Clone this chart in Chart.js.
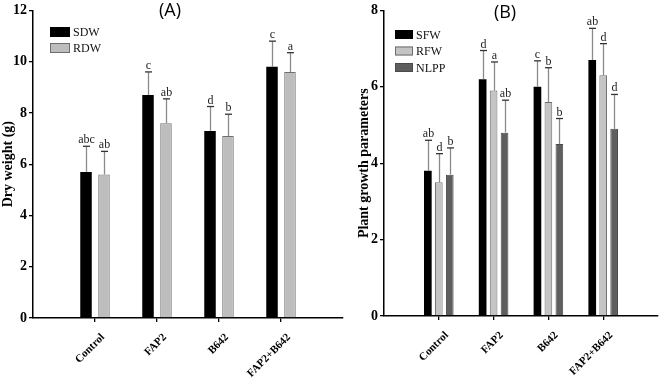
<!DOCTYPE html>
<html>
<head>
<meta charset="utf-8">
<script src="https://cdn.jsdelivr.net/npm/chart.js@4.4.1/dist/chart.umd.min.js"></script>
<style>
  html, body { margin: 0; padding: 0; background: #fff; width: 660px; height: 378px; overflow: hidden; }
  #wrapA { position: absolute; left: 0; top: 0; width: 345px; height: 378px; }
  #wrapB { position: absolute; left: 330px; top: 0; width: 330px; height: 378px; }
</style>
</head>
<body>
<div id="wrapA"><canvas id="chartA" width="345" height="378"></canvas></div>
<div id="wrapB"><canvas id="chartB" width="330" height="378"></canvas></div>
<script>
// ---- Data ----
const categories = ['Control', 'FAP2', 'B642', 'FAP2+B642'];

// Panel A: dry weight (g)
const sdw    = [5.7, 8.7, 7.3, 9.8];
const sdwErr = [1.0, 0.9, 0.95, 1.0];
const sdwSig = ['abc', 'c', 'd', 'c'];
const rdw    = [5.6, 7.6, 7.1, 9.6];
const rdwErr = [0.9, 0.95, 0.85, 0.75];
const rdwSig = ['ab', 'ab', 'b', 'a'];

// Panel B: plant growth parameters
const sfw     = [3.8, 6.2, 6.0, 6.7];
const sfwErr  = [0.8, 0.75, 0.68, 0.83];
const sfwSig  = ['ab', 'd', 'c', 'ab'];
const rfw     = [3.5, 5.9, 5.6, 6.3];
const rfwErr  = [0.75, 0.75, 0.9, 0.83];
const rfwSig  = ['d', 'a', 'b', 'd'];
const nlpp    = [3.7, 4.8, 4.5, 4.9];
const nlppErr = [0.7, 0.85, 0.67, 0.9];
const nlppSig = ['b', 'ab', 'b', 'd'];

const yTicksA = [0, 2, 4, 6, 8, 10, 12];
const yTicksB = [0, 2, 4, 6, 8];

// ---- helpers ----
const pad = a => [null, ...a, null];
const paddedLabels = ['', ...categories, ''];
const SERIF = 'Liberation Serif';

const errorBarPlugin = {
  id: 'errorBars',
  afterDatasetsDraw(chart) {
    const ctx = chart.ctx;
    const yScale = chart.scales.y;
    chart.data.datasets.forEach((ds, di) => {
      const meta = chart.getDatasetMeta(di);
      meta.data.forEach((bar, i) => {
        const v = ds.data[i];
        if (v === null || v === undefined) return;
        const e = ds.errors[i];
        const yTop = yScale.getPixelForValue(v + e);
        const x = Math.round(bar.x) + 0.5;
        ctx.save();
        ctx.strokeStyle = '#8a8a8a';
        ctx.lineWidth = 1.3;
        ctx.beginPath();
        ctx.moveTo(x, bar.y);
        ctx.lineTo(x, yTop);
        ctx.stroke();
        ctx.strokeStyle = '#333';
        ctx.lineWidth = 1.3;
        ctx.beginPath();
        ctx.moveTo(x - 3.5, yTop);
        ctx.lineTo(x + 3.5, yTop);
        ctx.stroke();
        ctx.fillStyle = '#222';
        ctx.font = '12px "' + SERIF + '"';
        ctx.textAlign = 'center';
        ctx.textBaseline = 'alphabetic';
        ctx.fillText(ds.sig[i], x, yTop - 3);
        ctx.restore();
      });
    });
  }
};

const decorPlugin = {
  id: 'decor',
  afterDraw(chart, args, opts) {
    const ctx = chart.ctx;
    ctx.save();
    // panel title
    ctx.fillStyle = '#000';
    ctx.font = '18px "Open Sans"';
    ctx.textAlign = 'center';
    ctx.textBaseline = 'middle';
    ctx.fillText(opts.title, opts.titleX, opts.titleY);
    // legend
    chart.data.datasets.forEach((ds, i) => {
      const y = opts.legY + i * opts.legGap;
      ctx.fillStyle = ds.backgroundColor;
      ctx.fillRect(opts.legX, y, opts.boxW, opts.boxH);
      if (ds.borderWidth) {
        ctx.strokeStyle = ds.borderColor;
        ctx.lineWidth = 1;
        ctx.strokeRect(opts.legX + 0.5, y + 0.5, opts.boxW - 1, opts.boxH - 1);
      }
      ctx.fillStyle = '#111';
      ctx.font = '12px "' + SERIF + '"';
      ctx.textAlign = 'left';
      ctx.textBaseline = 'middle';
      ctx.fillText(ds.label, opts.legX + opts.boxW + 3, y + opts.boxH / 2 + 1);
    });
    ctx.restore();
  }
};

function makeOptions(cfg) {
  return {
    responsive: false,
    animation: false,
    layout: { padding: { left: 0, top: 10, right: 2, bottom: 0 } },
    plugins: {
      legend: { display: false },
      tooltip: { enabled: false },
      decor: cfg.decor
    },
    scales: {
      x: {
        type: 'category',
        offset: false,
        grid: {
          offset: false,
          drawOnChartArea: false,
          drawTicks: true,
          tickLength: 4,
          lineWidth: 1.3,
          color: c => (c.index === 0 || c.index === paddedLabels.length - 1) ? 'rgba(0,0,0,0)' : '#000'
        },
        border: { display: true, color: '#000', width: 1.5 },
        ticks: {
          autoSkip: false,
          minRotation: 45,
          maxRotation: 45,
          padding: 9,
          labelOffset: 8,
          color: '#000',
          font: { family: SERIF, size: 11, weight: 'bold' }
        },
        afterFit: s => { s.height = cfg.xHeight; s.paddingRight = 0; s.paddingLeft = 0; }
      },
      y: {
        min: 0,
        max: cfg.yTicks[cfg.yTicks.length - 1],
        afterBuildTicks: s => { s.ticks = cfg.yTicks.map(v => ({ value: v })); },
        grid: {
          drawOnChartArea: false,
          drawTicks: true,
          tickLength: 4,
          lineWidth: 1.3,
          color: '#000'
        },
        border: { display: true, color: '#000', width: 1.5 },
        ticks: {
          padding: 2,
          color: '#000',
          font: { family: SERIF, size: 14, weight: 'bold' }
        },
        title: {
          display: true,
          text: cfg.yTitle,
          color: '#000',
          padding: { top: cfg.titlePad, bottom: 0 },
          font: { family: SERIF, size: 14, weight: 'bold' }
        },
        afterFit: s => { s.width = cfg.yWidth; }
      }
    }
  };
}

new Chart(document.getElementById('chartA'), {
  type: 'bar',
  data: {
    labels: paddedLabels,
    datasets: [
      { label: 'SDW', data: pad(sdw), errors: pad(sdwErr), sig: pad(sdwSig),
        backgroundColor: '#000000', borderColor: '#000000', borderWidth: 0,
        categoryPercentage: 0.58, barPercentage: 0.64 },
      { label: 'RDW', data: pad(rdw), errors: pad(rdwErr), sig: pad(rdwSig),
        backgroundColor: '#bdbdbd', borderColor: '#6e6e6e', borderWidth: 1,
        categoryPercentage: 0.58, barPercentage: 0.64 }
    ]
  },
  options: makeOptions({
    yTicks: yTicksA, yTitle: 'Dry weight (g)', yWidth: 33, xHeight: 60, titlePad: 0,
    decor: { title: '(A)', titleX: 170, titleY: 11, legX: 50, legY: 27, legGap: 16, boxW: 20, boxH: 10 }
  }),
  plugins: [errorBarPlugin, decorPlugin]
});

new Chart(document.getElementById('chartB'), {
  type: 'bar',
  data: {
    labels: paddedLabels,
    datasets: [
      { label: 'SFW', data: pad(sfw), errors: pad(sfwErr), sig: pad(sfwSig),
        backgroundColor: '#000000', borderColor: '#000000', borderWidth: 0,
        categoryPercentage: 0.6, barPercentage: 0.7 },
      { label: 'RFW', data: pad(rfw), errors: pad(rfwErr), sig: pad(rfwSig),
        backgroundColor: '#c4c4c4', borderColor: '#6e6e6e', borderWidth: 1,
        categoryPercentage: 0.6, barPercentage: 0.7 },
      { label: 'NLPP', data: pad(nlpp), errors: pad(nlppErr), sig: pad(nlppSig),
        backgroundColor: '#5e5e5e', borderColor: '#4a4a4a', borderWidth: 1,
        categoryPercentage: 0.6, barPercentage: 0.7 }
    ]
  },
  options: makeOptions({
    yTicks: yTicksB, yTitle: 'Plant growth parameters', yWidth: 54, xHeight: 62, titlePad: 26,
    decor: { title: '(B)', titleX: 175, titleY: 13, legX: 65, legY: 30, legGap: 16.5, boxW: 18, boxH: 9 }
  }),
  plugins: [errorBarPlugin, decorPlugin]
});
</script>
</body>
</html>
